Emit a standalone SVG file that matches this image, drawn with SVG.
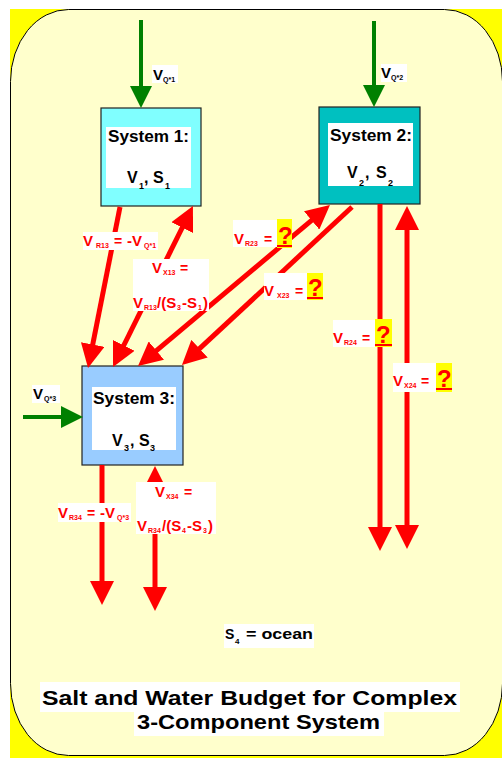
<svg xmlns="http://www.w3.org/2000/svg" width="502" height="758" viewBox="0 0 502 758">
<style>
text{font-family:"Liberation Sans",Arial,sans-serif;font-weight:bold}
.red{fill:#f00}
.blk{fill:#000}
.big{font-size:15px}
.sub{font-size:7px}
.eq{font-size:14px}
.q{font-size:24px;fill:#f00}
.bg{fill:#fff}
.qb{fill:#ff0}
.rl{stroke:#f00;stroke-width:5;fill:none}
.gl{stroke:#008000;stroke-width:4;fill:none}
.box{stroke:#222;stroke-width:1.2}
.st{font-size:16px}
.vs{font-size:16px}
.vsub{font-size:9px}
</style>
<defs>
<marker id="rh" markerUnits="userSpaceOnUse" markerWidth="24" markerHeight="24" refX="14" refY="12" orient="auto-start-reverse" viewBox="0 0 24 24"><path d="M0,0L24,12L0,24z" fill="#f00"/></marker>
<marker id="gh" markerUnits="userSpaceOnUse" markerWidth="22" markerHeight="22" refX="12" refY="11" orient="auto" viewBox="0 0 22 22"><path d="M0,0L22,11L0,22z" fill="#008000"/></marker>
</defs>
<g id="background">
<rect x="10" y="9" width="492" height="749" fill="#ff0"/>
<rect x="10.5" y="9.5" width="492" height="746" rx="58" ry="72" fill="#ffc" stroke="#000" stroke-width="1"/>
</g>
<g id="system1">
<rect class="box" x="101" y="108" width="100" height="98" fill="#80ffff"/>
<rect class="bg" x="106" y="127" width="85" height="61"/>
<text class="blk st" x="108" y="142" textLength="81" lengthAdjust="spacingAndGlyphs">System 1:</text>
<text class="blk"><tspan class="vs" x="127" y="183">V</tspan><tspan class="vsub" x="139" y="189">1</tspan><tspan class="vs" x="144" y="183">,</tspan><tspan class="vs" x="153" y="183">S</tspan><tspan class="vsub" x="165" y="189">1</tspan></text>
</g>
<g id="system2">
<rect class="box" x="319" y="107" width="101" height="97" fill="#00c0c0"/>
<rect class="bg" x="328" y="123" width="85" height="63"/>
<text class="blk st" x="330" y="141" textLength="82" lengthAdjust="spacingAndGlyphs">System 2:</text>
<text class="blk"><tspan class="vs" x="347" y="178">V</tspan><tspan class="vsub" x="359" y="186">2</tspan><tspan class="vs" x="365" y="178">,</tspan><tspan class="vs" x="376" y="178">S</tspan><tspan class="vsub" x="388" y="186">2</tspan></text>
</g>
<g id="system3">
<rect class="box" x="82" y="366" width="101" height="99" fill="#99ccff"/>
<rect class="bg" x="92" y="387" width="84" height="63"/>
<text class="blk st" x="93" y="404" textLength="82" lengthAdjust="spacingAndGlyphs">System 3:</text>
<text class="blk"><tspan class="vs" x="112" y="446">V</tspan><tspan class="vsub" x="124" y="451">3</tspan><tspan class="vs" x="130" y="446">,</tspan><tspan class="vs" x="139" y="446">S</tspan><tspan class="vsub" x="150" y="451">3</tspan></text>
</g>
<g id="connectors">
<line class="gl" x1="141" y1="20" x2="141" y2="98" marker-end="url(#gh)"/>
<line class="gl" x1="374" y1="21" x2="374" y2="97" marker-end="url(#gh)"/>
<line class="gl" x1="23" y1="417" x2="73" y2="417" marker-end="url(#gh)"/>
<line class="rl" x1="120" y1="207" x2="90" y2="358.2" marker-end="url(#rh)"/>
<line class="rl" x1="117.5" y1="358" x2="188.5" y2="215" marker-start="url(#rh)" marker-end="url(#rh)"/>
<line class="rl" x1="145.7" y1="359.6" x2="322.3" y2="211.4" marker-start="url(#rh)" marker-end="url(#rh)"/>
<line class="rl" x1="352" y1="207" x2="189.3" y2="358.2" marker-end="url(#rh)"/>
<line class="rl" x1="380" y1="204" x2="380" y2="541" marker-end="url(#rh)"/>
<line class="rl" x1="407" y1="216" x2="407" y2="539" marker-start="url(#rh)" marker-end="url(#rh)"/>
<line class="rl" x1="102" y1="465" x2="102" y2="595" marker-end="url(#rh)"/>
<line class="rl" x1="155" y1="476" x2="155" y2="601" marker-start="url(#rh)" marker-end="url(#rh)"/>
</g>
<g id="labels">
<rect class="bg" x="152" y="65" width="26" height="18"/>
<text class="blk"><tspan class="big" x="153" y="80">V</tspan><tspan class="sub" x="163" y="82">Q*1</tspan></text>
<rect class="bg" x="381" y="64" width="26" height="18"/>
<text class="blk"><tspan class="big" x="381" y="78">V</tspan><tspan class="sub" x="391" y="80">Q*2</tspan></text>
<rect class="bg" x="32" y="385" width="28" height="18"/>
<text class="blk"><tspan class="big" x="33" y="399">V</tspan><tspan class="sub" x="44" y="401">Q*3</tspan></text>

<rect class="bg" x="83" y="232" width="75" height="18"/>
<text class="red"><tspan class="big" x="83" y="246">V</tspan><tspan class="sub" x="96" y="248">R13</tspan><tspan class="eq" x="114" y="246">=</tspan><tspan class="big" x="127" y="246">-V</tspan><tspan class="sub" x="144" y="248">Q*1</tspan></text>

<rect class="bg" x="133" y="259" width="76" height="52"/>
<text class="red"><tspan class="big" x="152" y="273">V</tspan><tspan class="sub" x="163" y="275">X13</tspan><tspan class="eq" x="180" y="273">=</tspan></text>
<text class="red"><tspan class="big" x="133" y="308">V</tspan><tspan class="sub" x="144" y="310">R13</tspan><tspan class="big" x="157" y="308">/(S</tspan><tspan class="sub" x="177" y="310">3</tspan><tspan class="big" x="182" y="308">-S</tspan><tspan class="sub" x="198" y="310">1</tspan><tspan class="big" x="203" y="308">)</tspan></text>

<rect class="bg" x="233" y="220" width="44" height="27"/>
<rect class="qb" x="277" y="219" width="15" height="29"/>
<text class="red"><tspan class="big" x="234" y="244">V</tspan><tspan class="sub" x="245" y="246">R23</tspan><tspan class="eq" x="264" y="244">=</tspan></text>
<text class="q" x="278" y="244">?</text>
<rect x="277" y="245" width="15" height="2" fill="#f00"/>

<rect class="bg" x="264" y="273" width="43" height="27"/>
<rect class="qb" x="307" y="273" width="16" height="27"/>
<text class="red"><tspan class="big" x="264" y="296">V</tspan><tspan class="sub" x="277" y="298">X23</tspan><tspan class="eq" x="295" y="296">=</tspan></text>
<text class="q" x="308" y="296">?</text>
<rect x="307" y="297" width="16" height="2" fill="#f00"/>

<rect class="bg" x="333" y="320" width="42" height="27"/>
<rect class="qb" x="375" y="319" width="17" height="28"/>
<text class="red"><tspan class="big" x="333" y="343">V</tspan><tspan class="sub" x="344" y="345">R24</tspan><tspan class="eq" x="362" y="343">=</tspan></text>
<text class="q" x="376" y="343">?</text>
<rect x="375" y="344" width="17" height="2" fill="#f00"/>

<rect class="bg" x="393" y="363" width="43" height="29"/>
<rect class="qb" x="436" y="363" width="16" height="29"/>
<text class="red"><tspan class="big" x="393" y="386">V</tspan><tspan class="sub" x="404" y="388">X24</tspan><tspan class="eq" x="421" y="386">=</tspan></text>
<text class="q" x="437" y="387">?</text>
<rect x="436" y="388" width="16" height="2" fill="#f00"/>

<rect class="bg" x="58" y="503" width="73" height="19"/>
<text class="red"><tspan class="big" x="58" y="518">V</tspan><tspan class="sub" x="69" y="520">R34</tspan><tspan class="eq" x="87" y="518">=</tspan><tspan class="big" x="100" y="518">-V</tspan><tspan class="sub" x="117" y="520">Q*3</tspan></text>

<rect class="bg" x="136" y="482" width="80" height="52"/>
<text class="red"><tspan class="big" x="155" y="497">V</tspan><tspan class="sub" x="166" y="499">X34</tspan><tspan class="eq" x="184" y="497">=</tspan></text>
<text class="red"><tspan class="big" x="137" y="531">V</tspan><tspan class="sub" x="148" y="533">R34</tspan><tspan class="big" x="162" y="531">/(S</tspan><tspan class="sub" x="182" y="533">4</tspan><tspan class="big" x="187" y="531">-S</tspan><tspan class="sub" x="203" y="533">3</tspan><tspan class="big" x="208" y="531">)</tspan></text>

<rect class="bg" x="224" y="624" width="90" height="24"/>
<text class="blk"><tspan x="225" y="639" font-size="14">S</tspan><tspan x="235" y="644" font-size="8">4</tspan><tspan x="246" y="639" font-size="14" textLength="67" lengthAdjust="spacingAndGlyphs">= ocean</tspan></text>

<rect class="bg" x="40" y="682" width="420" height="30"/>
<rect class="bg" x="134" y="712" width="250" height="24"/>
<text class="blk" x="42" y="705" font-size="21" textLength="415" lengthAdjust="spacingAndGlyphs">Salt and Water Budget for Complex</text>
<text class="blk" x="137" y="729" font-size="21" textLength="243" lengthAdjust="spacingAndGlyphs">3-Component System</text>
</g>
</svg>
